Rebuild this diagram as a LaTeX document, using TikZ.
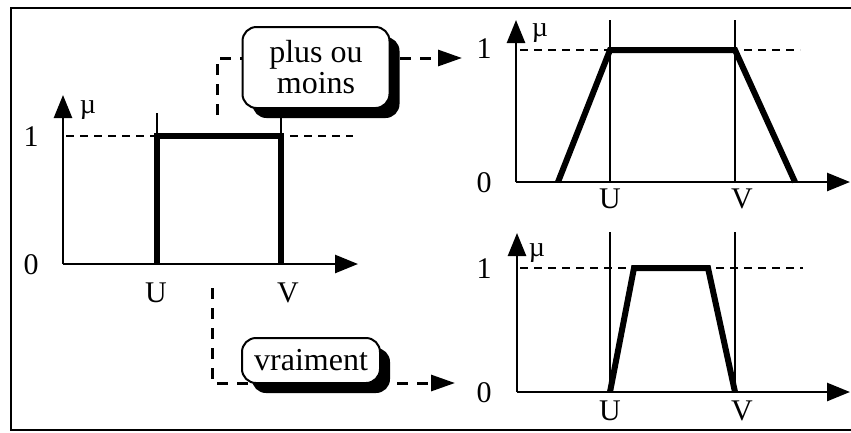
\documentclass[tikz,border=0pt]{standalone}
\usepackage{fontspec}
\setmainfont{Liberation Serif}
\usetikzlibrary{arrows.meta,shadows}
\begin{document}
\begin{tikzpicture}[x=1pt,y=-1pt,
  axis/.style={line width=2.6pt,-{Triangle[length=23pt,width=18pt]}},
  thin/.style={line width=2pt},
  thick fn/.style={line width=6pt,line join=miter},
  guide/.style={line width=1.3pt,dash pattern=on 8pt off 6pt},
  conn/.style={line width=3pt,dash pattern=on 11pt off 9pt},
  connarrow/.style={conn,-{Triangle[length=24pt,width=16pt]}},
  digit/.style={font=\fontsize{30}{30}\selectfont,anchor=base,inner sep=0pt},
  letter/.style={font=\fontsize{30}{30}\selectfont,anchor=base,inner sep=0pt},
  mu/.style={font=\fontsize{28}{28}\selectfont,anchor=base,inner sep=0pt},
  hedge/.style={draw=black,line width=2pt,fill=white,rounded corners=14pt,
    inner sep=0pt,align=center,font=\fontsize{32}{31}\selectfont,
    drop shadow={shadow xshift=10pt,shadow yshift=-10pt,fill=black,opacity=1}}
]
\useasboundingbox (0,0) rectangle (851,432);
% frame
\draw[line width=2.6pt] (851,8) -- (11,8) -- (11,430) -- (851,430);

% ---------- left chart ----------
\coordinate (LO) at (63,264);
\coordinate (LYtop) at (63,95);
\coordinate (LXend) at (358,264);
\draw[axis] (LO) -- (LYtop);
\draw[axis] (LO) -- (LXend);
\coordinate (Ld1) at (66,136);
\coordinate (Ld2) at (353,136);
\draw[guide] (Ld1) -- (Ld2);
\coordinate (LUt) at (157,113);
\coordinate (LU1) at (157,136);
\coordinate (LU0) at (157,264);
\coordinate (LVt) at (281,110);
\coordinate (LV1) at (281,136);
\coordinate (LV0) at (281,264);
\draw[thin] (LUt) -- (LU1);
\draw[thin] (LVt) -- (LV1);
\draw[thick fn] (LU0) -- (LU1) -- (LV1) -- (LV0);
\node[digit] (L1) at (31,146) {1};
\node[digit] (L0) at (31,274) {0};
\node[mu] (Lmu) at (88,113) {µ};
\node[letter] (LU) at (156,302) {U};
\node[letter] (LV) at (288,302) {V};

% ---------- top right chart ----------
\coordinate (TO) at (516,182);
\coordinate (TYtop) at (516,20);
\coordinate (TXend) at (850,182);
\draw[axis] (TO) -- (TYtop);
\draw[axis] (TO) -- (TXend);
\coordinate (Td1) at (520,50);
\coordinate (Td2) at (800,50);
\draw[guide] (Td1) -- (Td2);
\coordinate (TUt) at (610,20);
\coordinate (TUb) at (610,182);
\coordinate (TVt) at (735,20);
\coordinate (TVb) at (735,182);
\draw[thin] (TUt) -- (TUb);
\draw[thin] (TVt) -- (TVb);
\coordinate (Ta) at (558,182);
\coordinate (Tb) at (610,50);
\coordinate (Tc) at (735,50);
\coordinate (Td) at (795,182);
\draw[thick fn] (Ta) -- (Tb) -- (Tc) -- (Td);
\node[digit] (T1) at (484,58) {1};
\node[digit] (T0) at (484,192) {0};
\node[mu] (Tmu) at (540,36) {µ};
\node[letter] (TU) at (610,208) {U};
\node[letter] (TV) at (742,208) {V};

% ---------- bottom right chart ----------
\coordinate (BO) at (517,392);
\coordinate (BYtop) at (517,233);
\coordinate (BXend) at (850,392);
\draw[axis] (BO) -- (BYtop);
\draw[axis] (BO) -- (BXend);
\coordinate (Bd1) at (520,268);
\coordinate (Bd2) at (803,268);
\draw[guide] (Bd1) -- (Bd2);
\coordinate (BUt) at (610,232);
\coordinate (BUb) at (610,392);
\coordinate (BVt) at (735,232);
\coordinate (BVb) at (735,392);
\draw[thin] (BUt) -- (BUb);
\draw[thin] (BVt) -- (BVb);
\coordinate (Ba) at (610,392);
\coordinate (Bb) at (634,268);
\coordinate (Bc) at (708,268);
\coordinate (Bd) at (735,392);
\draw[thick fn] (Ba) -- (Bb) -- (Bc) -- (Bd);
\node[digit] (B1) at (484,278) {1};
\node[digit] (B0) at (484,402) {0};
\node[mu] (Bmu) at (537,256) {µ};
\node[letter] (BU) at (610,420) {U};
\node[letter] (BV) at (742,420) {V};

% ---------- connectors ----------
\coordinate (c1s) at (217,115);
\coordinate (c1m) at (217,58);
\coordinate (c1e) at (462,58);
\draw[connarrow] (c1s) -- (c1m) -- (c1e);
\coordinate (c2s) at (212,288);
\coordinate (c2m) at (212,383);
\coordinate (c2e) at (455,383);
\draw[connarrow] (c2s) -- (c2m) -- (c2e);

% ---------- hedge boxes ----------
\node[hedge,minimum width=147pt,minimum height=81pt] (pom) at (316,67.5)
  {plus ou\\moins};
\node[hedge,minimum width=138pt,minimum height=45pt] (vrai) at (311,360.5)
  {vraiment};
\end{tikzpicture}
\end{document}
